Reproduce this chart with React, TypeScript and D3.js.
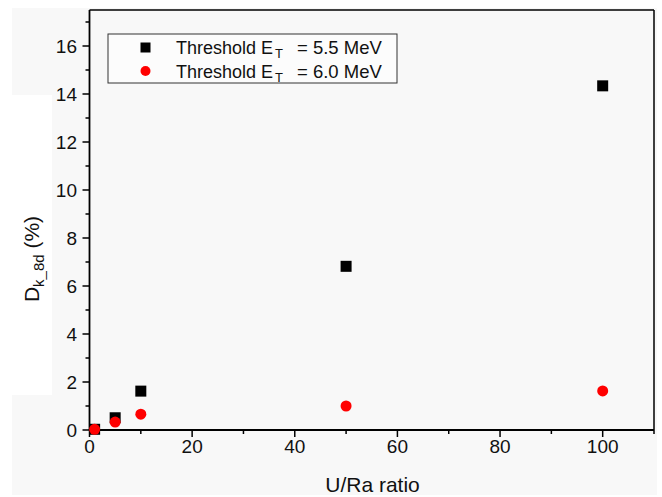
import React from "react";
import * as d3 from "d3";

const xValues = [1, 5, 10, 50, 100];
const series55 = [0.03, 0.51, 1.62, 6.82, 14.34];
const series60 = [0.03, 0.33, 0.66, 1.0, 1.63];
const xTicks = [0, 20, 40, 60, 80, 100];
const yTicks = [0, 2, 4, 6, 8, 10, 12, 14, 16];
const legendLabels = ["5.5 MeV", "6.0 MeV"];

const W = 662, H = 497;
const M = { left: 89.5, right: 654, top: 10, bottom: 430 };
const FONT = "'Liberation Sans', Arial, sans-serif";

export default function App() {
  const x = d3.scaleLinear().domain([0, 110]).range([M.left, M.right]);
  const y = d3.scaleLinear().domain([0, 17.5]).range([M.bottom, M.top]);
  const xMinor = d3.range(10, 111, 20);
  const yMinor = d3.range(1, 17.6, 2);

  return (
    <svg width={W} height={H} style={{ position: "absolute", left: 0, top: 0 }} fontFamily={FONT}>
      <rect x={0} y={0} width={W} height={H} fill="#ffffff" />
      <rect x={12} y={8} width={645} height={487} fill="#f8f8f8" />
      <rect x={12} y={95} width={40} height={300} fill="#ffffff" />
      {/* frame */}
      <line x1={M.left} x2={M.right} y1={M.top} y2={M.top} stroke="#000" strokeWidth={1.5} />
      <line x1={M.right} x2={M.right} y1={M.top} y2={M.bottom} stroke="#000" strokeWidth={1.5} />
      <line x1={M.left} x2={M.right} y1={M.bottom} y2={M.bottom} stroke="#000" strokeWidth={1.8} />
      <line x1={M.left} x2={M.left} y1={M.top} y2={M.bottom} stroke="#000" strokeWidth={1.8} />
      {/* x ticks */}
      {xTicks.map((t) => (
        <g key={"xt" + t}>
          <line x1={x(t)} x2={x(t)} y1={M.bottom} y2={M.bottom + 7} stroke="#000" strokeWidth={1.5} />
          <text x={x(t)} y={452.5} fontSize={19} textAnchor="middle" fill="#111">{t}</text>
        </g>
      ))}
      {xMinor.map((t) => (
        <line key={"xm" + t} x1={x(t)} x2={x(t)} y1={M.bottom} y2={M.bottom + 4} stroke="#000" strokeWidth={1.5} />
      ))}
      {/* y ticks */}
      {yTicks.map((t) => (
        <g key={"yt" + t}>
          <line x1={M.left - 7} x2={M.left} y1={y(t)} y2={y(t)} stroke="#000" strokeWidth={1.5} />
          <text x={77} y={y(t) + 6.8} fontSize={19} textAnchor="end" fill="#111">{t}</text>
        </g>
      ))}
      {yMinor.map((t) => (
        <line key={"ym" + t} x1={M.left - 4} x2={M.left} y1={y(t)} y2={y(t)} stroke="#000" strokeWidth={1.5} />
      ))}
      {/* titles */}
      <text x={372.5} y={492} fontSize={21} textAnchor="middle" fill="#111">U/Ra ratio</text>
      <text transform={`translate(39,259) rotate(-90)`} fontSize={21} textAnchor="middle" fill="#111">
        D<tspan fontSize={15} dy={5}>k_8d</tspan><tspan dy={-5}> (%)</tspan>
      </text>
      {/* data */}
      {xValues.map((v, i) => (
        <rect key={"s" + i} x={x(v) - 5.5} y={y(series55[i]) - 5.5} width={11} height={11} fill="#000" />
      ))}
      {xValues.map((v, i) => (
        <circle key={"c" + i} cx={x(v)} cy={y(series60[i])} r={5.5} fill="#ff0000" />
      ))}
      {/* legend */}
      <rect x={108} y={34} width={289} height={49} fill="#fcfcfc" stroke="#333" strokeWidth={1} />
      <rect x={145.5 - 5} y={47.5 - 5} width={10} height={10} fill="#000" />
      <circle cx={145.5} cy={71} r={5} fill="#ff0000" />
      {legendLabels.map((l, i) => (
        <g key={"l" + i}>
          <text x={176} y={54.3 + i * 23.5} fontSize={18} fill="#111">
            Threshold E<tspan fontSize={13} dx={2} dy={4}>T</tspan>
          </text>
          <text x={297} y={54.3 + i * 23.5} fontSize={18.5} fill="#111">{"= " + l}</text>
        </g>
      ))}
    </svg>
  );
}
